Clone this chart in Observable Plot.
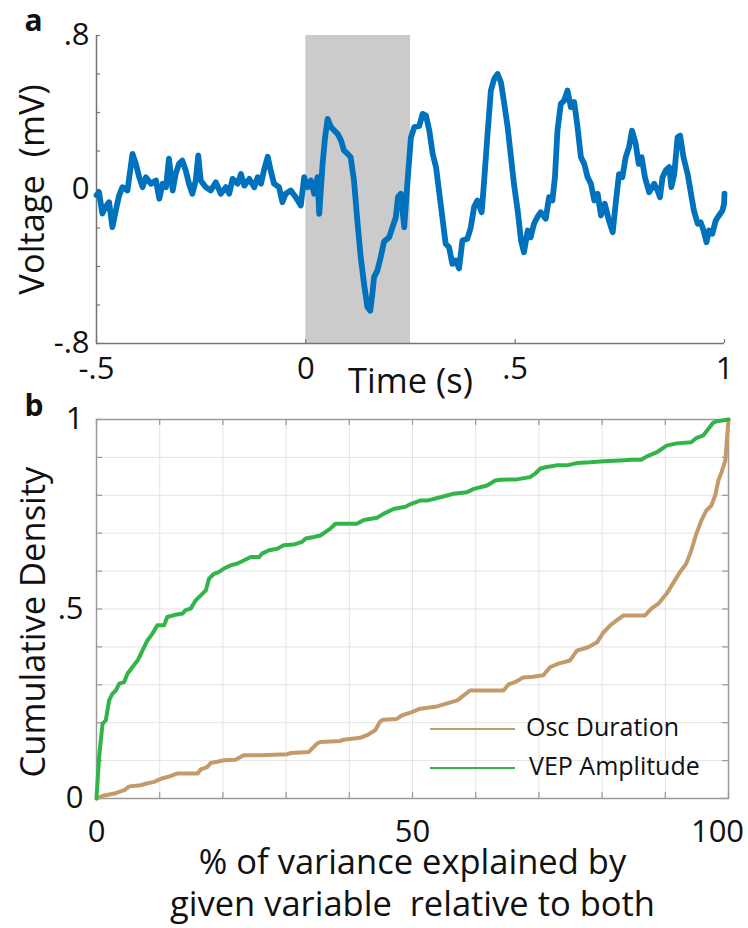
<!DOCTYPE html>
<html><head><meta charset="utf-8">
<script src="https://cdn.jsdelivr.net/npm/d3@7"></script>
<script src="https://cdn.jsdelivr.net/npm/@observablehq/plot@0.6"></script>
<style>
html,body{margin:0;padding:0;background:#fff;}
#wrap{position:relative;width:748px;height:928px;overflow:hidden;background:#fff;}
</style></head><body><div id="wrap"></div>
<script>
// ---------- Panel a data ----------
const timeA = [-0.500,-0.494,-0.486,-0.478,-0.470,-0.462,-0.454,-0.446,-0.438,-0.426,-0.414,-0.406,-0.398,-0.390,-0.382,-0.370,-0.358,-0.350,-0.342,-0.334,-0.327,-0.318,-0.311,-0.303,-0.295,-0.287,-0.279,-0.271,-0.263,-0.257,-0.251,-0.239,-0.227,-0.215,-0.203,-0.191,-0.183,-0.175,-0.163,-0.155,-0.147,-0.135,-0.123,-0.115,-0.107,-0.100,-0.091,-0.084,-0.076,-0.064,-0.056,-0.048,-0.036,-0.024,-0.012,-0.004,0.004,0.012,0.020,0.028,0.032,0.040,0.046,0.052,0.060,0.068,0.076,0.084,0.091,0.100,0.107,0.115,0.123,0.131,0.139,0.147,0.154,0.159,0.163,0.171,0.179,0.187,0.199,0.207,0.215,0.220,0.227,0.235,0.243,0.251,0.259,0.271,0.279,0.287,0.295,0.303,0.311,0.318,0.327,0.334,0.342,0.350,0.358,0.366,0.374,0.386,0.394,0.402,0.410,0.420,0.426,0.434,0.442,0.450,0.458,0.466,0.474,0.482,0.490,0.497,0.506,0.514,0.521,0.530,0.537,0.545,0.553,0.561,0.573,0.581,0.589,0.595,0.601,0.609,0.617,0.625,0.633,0.641,0.649,0.657,0.665,0.673,0.681,0.689,0.697,0.705,0.714,0.724,0.733,0.740,0.748,0.756,0.764,0.772,0.779,0.788,0.795,0.802,0.810,0.820,0.832,0.840,0.846,0.852,0.860,0.868,0.873,0.880,0.888,0.894,0.902,0.912,0.920,0.927,0.936,0.943,0.950,0.957,0.963,0.971,0.979,0.987,0.995,0.999,1.000];
const voltA = [-0.03,-0.014,-0.125,-0.09,-0.066,-0.196,-0.11,-0.03,0.012,-0.005,0.185,0.133,0.064,0.012,0.064,0.03,0.047,-0.048,0.03,0.012,0.16,-0.005,0.08,0.133,0.15,0.1,0.03,-0.022,0.047,0.177,0.047,0.012,-0.005,0.038,-0.022,0.012,-0.022,0.055,0.03,0.08,0.02,0.055,0.012,0.064,0.03,0.1,0.17,0.1,0.03,0.012,-0.066,-0.022,-0.005,-0.04,-0.083,0.064,0.012,0.047,-0.022,0.064,-0.126,0.133,0.272,0.367,0.324,0.306,0.289,0.255,0.203,0.185,0.168,0.047,-0.161,-0.35,-0.49,-0.61,-0.63,-0.54,-0.455,-0.42,-0.35,-0.27,-0.248,-0.196,-0.144,-0.04,-0.022,-0.196,0.047,0.27,0.324,0.33,0.393,0.384,0.306,0.185,0.116,-0.005,-0.161,-0.282,-0.3,-0.386,-0.369,-0.41,-0.265,-0.256,-0.196,-0.09,-0.057,-0.118,0.047,0.289,0.514,0.575,0.6,0.557,0.445,0.324,0.168,0.03,-0.11,-0.265,-0.326,-0.213,-0.248,-0.178,-0.144,-0.118,-0.152,-0.04,-0.057,0.064,0.306,0.445,0.462,0.514,0.428,0.454,0.324,0.168,0.133,0.064,0.03,-0.057,-0.022,-0.135,-0.074,-0.161,-0.222,-0.074,0.08,0.064,0.168,0.22,0.306,0.237,0.133,0.168,0.064,-0.014,0.03,-0.005,-0.04,0.064,0.1,0.116,0.012,0.08,0.272,0.28,0.168,0.08,-0.022,-0.11,-0.178,-0.17,-0.213,-0.274,-0.213,-0.23,-0.161,-0.135,-0.11,-0.074,-0.022];
const stimWindow = [0, 0.25];
const xDomainA = [-0.5, 1];
const yDomainA = [-0.8, 0.8];
const xTicksA = [-0.5, 0, 0.5, 1];
const xTickLabelsA = ["-.5", "0", ".5", "1"];
const yTicksA = [-0.8, -0.6, -0.4, -0.2, 0, 0.2, 0.4, 0.6, 0.8];
const yLabelTicksA = [0.8, 0, -0.8];
const yTickLabelsA = [".8", "0", "-.8"];
const xTitleA = "Time (s)";
const yTitleA = "Voltage  (mV)";
const panelLabelA = "a";

// ---------- Panel b data ----------
const oscX = [0,1.2,2.8,4.4,5.2,7.0,7.8,9.1,10.2,11.5,12.8,16.0,16.5,17.5,18.1,19.1,20.2,22.0,23.3,26.0,30.2,30.7,33.6,34.9,35.4,38.6,39.1,41.7,42.8,44.1,44.9,45.4,47.5,48.3,49.9,51.2,53.9,55.5,57.1,58.1,59.1,64.4,65.2,66.2,67.5,69.1,70.7,71.8,73.1,74.9,76.0,77.8,79.2,80.2,81.3,82.3,83.4,86.8,87.8,88.9,90.2,91.2,92.3,93.3,94.1,94.9,95.7,96.5,97.3,97.9,98.4,98.9,99.5,99.7,100];
const oscY = [0,0.008,0.013,0.022,0.032,0.035,0.039,0.044,0.052,0.058,0.066,0.066,0.077,0.083,0.094,0.097,0.101,0.102,0.114,0.114,0.117,0.12,0.123,0.145,0.149,0.152,0.155,0.16,0.167,0.18,0.204,0.208,0.21,0.219,0.228,0.237,0.243,0.251,0.259,0.272,0.285,0.285,0.301,0.307,0.319,0.321,0.325,0.347,0.356,0.364,0.39,0.399,0.412,0.438,0.457,0.47,0.483,0.483,0.501,0.514,0.54,0.567,0.597,0.619,0.654,0.698,0.733,0.76,0.773,0.8,0.839,0.861,0.892,0.936,1.0];
const vepX = [0,0.41,0.95,1.47,2.0,2.5,3.05,3.6,4.36,4.9,5.7,6.5,7.27,8.06,8.85,9.64,10.7,11.2,12.3,13.6,14.1,14.9,15.7,16.5,17.3,17.8,18.6,19.4,20.2,21.2,22.3,23.3,24.4,25.7,26.2,27.3,28.6,29.6,31.2,32.5,33.1,34.4,35.4,36.2,37.0,37.8,41.2,42.3,44.4,45.4,47.0,48.9,49.7,51.2,52.3,54.4,56.5,58.6,59.7,61.8,63.1,63.9,66.5,68.6,69.4,70.2,71.0,72.8,74.4,76.0,78.1,80.2,82.8,84.9,86.2,87.0,88.6,90.2,91.8,94.1,94.9,96.0,96.8,97.6,98.1,100];
const vepY = [0,0.109,0.197,0.206,0.259,0.276,0.285,0.303,0.307,0.329,0.347,0.364,0.39,0.417,0.435,0.457,0.457,0.479,0.484,0.488,0.497,0.501,0.523,0.536,0.549,0.58,0.593,0.598,0.607,0.615,0.62,0.628,0.637,0.637,0.646,0.655,0.659,0.668,0.67,0.677,0.686,0.69,0.694,0.703,0.712,0.725,0.725,0.735,0.741,0.751,0.764,0.77,0.777,0.786,0.786,0.795,0.804,0.808,0.817,0.826,0.839,0.841,0.842,0.848,0.857,0.87,0.874,0.879,0.879,0.885,0.887,0.89,0.892,0.894,0.894,0.902,0.913,0.931,0.937,0.94,0.951,0.958,0.975,0.992,0.995,1.0];
const seriesNames = ["Osc Duration", "VEP Amplitude"];
const seriesColors = ["#c49a6a", "#32b548"];
const xDomainB = [0, 100];
const yDomainB = [0, 1];
const xGridB = [0,10,20,30,40,50,60,70,80,90,100];
const yGridB = [0,0.1,0.2,0.3,0.4,0.5,0.6,0.7,0.8,0.9,1];
const xLabelTicksB = [0, 50];
const xLabelTicksBEnd = [100];
const yLabelTicksB = [0, 0.5, 1];
const yTickLabelsB = ["0", ".5", "1"];
const xTitleB1 = "% of variance explained by";
const xTitleB2 = "given variable  relative to both";
const yTitleB = "Cumulative Density";
const panelLabelB = "b";

// ---------- styling ----------
const FONT = "'Open Sans', sans-serif";
const TICK_FS = 31, TITLE_FS = 34.5, LETTER_FS = 30, LEG_FS = 25;
const AX = "#747474";
const wrap = document.getElementById("wrap");

// ---------- Panel a ----------
const mA = {left: 96, right: 24, top: 35, bottom: 67};
const hA = 410, wA = 748;
const fwA = wA - mA.left - mA.right, fhA = hA - mA.top - mA.bottom;
const traceA = timeA.map((t, i) => ({t, v: voltA[i]}));
const labA = new Map(yLabelTicksA.map((v, i) => [v, yTickLabelsA[i]]));
const labXA = new Map(xTicksA.map((v, i) => [v, xTickLabelsA[i]]));

const plotA = Plot.plot({
  width: wA, height: hA,
  marginLeft: mA.left, marginRight: mA.right, marginTop: mA.top, marginBottom: mA.bottom,
  x: {domain: xDomainA}, y: {domain: yDomainA},
  style: {fontFamily: FONT, fontSize: TICK_FS + "px", color: "#111", background: "transparent", overflow: "visible", position: "absolute", left: "0px", top: "0px"},
  marks: [
    Plot.rect([stimWindow], {x1: d => d[0], x2: d => d[1], y1: () => yDomainA[0], y2: () => yDomainA[1], fill: "#cbcbcb"}),
    Plot.ruleX([xDomainA[0]], {stroke: AX, strokeWidth: 1.5}),
    Plot.ruleY([yDomainA[0]], {stroke: AX, strokeWidth: 1.5}),
    Plot.tickY(yTicksA, {y: d => d, stroke: AX, strokeWidth: 1.2, insetRight: fwA - 4}),
    Plot.tickX(xTicksA, {x: d => d, stroke: AX, strokeWidth: 1.2, insetTop: fhA - 4}),
    Plot.line(traceA, {x: "t", y: "v", stroke: "#0072BD", strokeWidth: 5.8, strokeLinejoin: "round", strokeLinecap: "round"}),
    Plot.axisY(yLabelTicksA, {tickSize: 0, tickPadding: 7, tickFormat: d => labA.get(d), fontSize: TICK_FS, label: null}),
    Plot.axisX(xTicksA, {tickSize: 0, tickPadding: 13, tickFormat: d => labXA.get(d), fontSize: TICK_FS, label: null}),
    Plot.text([xTitleA], {text: d => d, frameAnchor: "bottom", dy: 49, lineAnchor: "bottom", textAnchor: "middle", fontSize: TITLE_FS}),
    Plot.text([yTitleA], {text: d => d, frameAnchor: "left", rotate: -90, dx: -53, dy: 0, lineAnchor: "bottom", textAnchor: "middle", fontSize: TITLE_FS}),
    Plot.text([panelLabelA], {text: d => d, frameAnchor: "top-left", dx: -72, dy: -5, lineAnchor: "bottom", textAnchor: "start", fontWeight: "bold", fontSize: LETTER_FS})
  ]
});
wrap.appendChild(plotA);

// ---------- Panel b ----------
const topB = 380;
const mB = {left: 96, right: 20, top: 39, bottom: 130};
const hB = 548, wB = 748;
const fwB = wB - mB.left - mB.right, fhB = hB - mB.top - mB.bottom;
const osc = oscX.map((x, i) => ({x, y: oscY[i]}));
const vep = vepX.map((x, i) => ({x, y: vepY[i]}));
const labB = new Map(yLabelTicksB.map((v, i) => [v, yTickLabelsB[i]]));
const GRID = "#e4e4e4", BOX = "#9a9a9a";

const plotB = Plot.plot({
  width: wB, height: hB,
  marginLeft: mB.left, marginRight: mB.right, marginTop: mB.top, marginBottom: mB.bottom,
  x: {domain: xDomainB}, y: {domain: yDomainB},
  style: {fontFamily: FONT, fontSize: TICK_FS + "px", color: "#111", background: "transparent", overflow: "visible", position: "absolute", left: "0px", top: topB + "px"},
  marks: [
    Plot.gridX(xGridB, {stroke: GRID, strokeOpacity: 1, strokeWidth: 1}),
    Plot.gridY(yGridB, {stroke: GRID, strokeOpacity: 1, strokeWidth: 1}),
    Plot.tickY(yGridB, {y: d => d, stroke: BOX, strokeWidth: 1.2, insetRight: fwB - 6}),
    Plot.tickY(yGridB, {y: d => d, stroke: BOX, strokeWidth: 1.2, insetLeft: fwB - 6}),
    Plot.tickX(xGridB, {x: d => d, stroke: BOX, strokeWidth: 1.2, insetTop: fhB - 6}),
    Plot.tickX(xGridB, {x: d => d, stroke: BOX, strokeWidth: 1.2, insetBottom: fhB - 6}),
    Plot.frame({stroke: BOX, strokeWidth: 1.5}),
    Plot.line(osc, {x: "x", y: "y", stroke: seriesColors[0], strokeWidth: 4, strokeLinejoin: "round"}),
    Plot.line(vep, {x: "x", y: "y", stroke: seriesColors[1], strokeWidth: 4, strokeLinejoin: "round"}),
    Plot.axisY(yLabelTicksB, {tickSize: 0, tickPadding: 13, tickFormat: d => labB.get(d), fontSize: TICK_FS, label: null}),
    Plot.axisX(xLabelTicksB, {tickSize: 0, tickPadding: 21, tickFormat: d => String(d), fontSize: TICK_FS, label: null}),
    Plot.axisX(xLabelTicksBEnd, {tickSize: 0, tickPadding: 21, dx: -11, tickFormat: d => String(d), fontSize: TICK_FS, label: null}),
    Plot.text([xTitleB1], {text: d => d, frameAnchor: "bottom", dy: 75, lineAnchor: "bottom", textAnchor: "middle", fontSize: TITLE_FS}),
    Plot.text([xTitleB2], {text: d => d, frameAnchor: "bottom", dy: 117, lineAnchor: "bottom", textAnchor: "middle", fontSize: TITLE_FS}),
    Plot.text([yTitleB], {text: d => d, frameAnchor: "left", rotate: -90, dx: -52, dy: 13, lineAnchor: "bottom", textAnchor: "middle", fontSize: TITLE_FS}),
    Plot.text([panelLabelB], {text: d => d, frameAnchor: "top-left", dx: -72, dy: -4, lineAnchor: "bottom", textAnchor: "start", fontWeight: "bold", fontSize: LETTER_FS})
  ]
});
wrap.appendChild(plotB);

// ---------- legend (inside panel b, lower right) ----------
const leg = d3.select(wrap).append("svg")
  .attr("width", 748).attr("height", 928)
  .style("position", "absolute").style("left", "0px").style("top", "0px")
  .style("pointer-events", "none");
const legRows = seriesNames.map((name, i) => ({name, color: seriesColors[i], row: i}));
const gL = leg.selectAll("g").data(legRows).join("g")
  .attr("transform", d => `translate(430,${729 + d.row * 39})`);
gL.append("line").attr("x1", 0).attr("x2", 85).attr("y1", 0).attr("y2", 0)
  .attr("stroke", d => d.color).attr("stroke-width", 2);
gL.append("text").attr("x", d => 96 + d.row * 3).attr("y", 6.5)
  .attr("font-family", FONT).attr("font-size", LEG_FS).attr("fill", "#111")
  .text(d => d.name);
</script>
</body></html>
